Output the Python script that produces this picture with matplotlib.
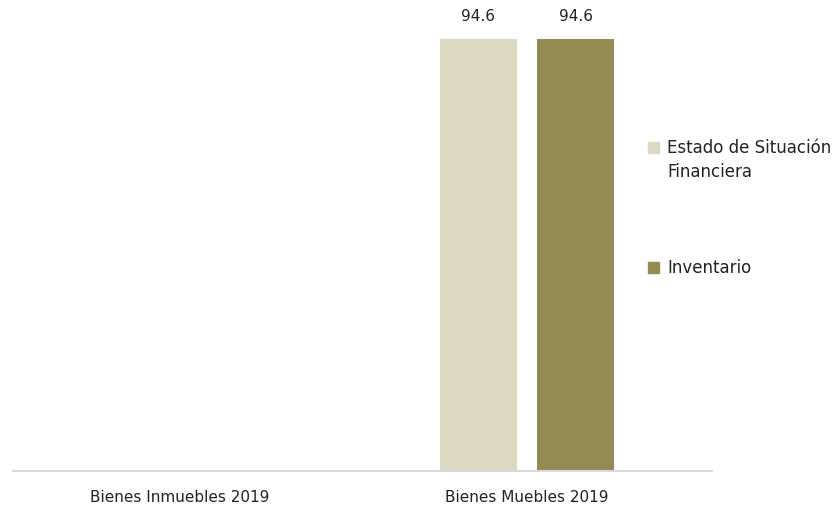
import matplotlib
matplotlib.use('Agg')
import matplotlib.pyplot as plt
from matplotlib.patches import Rectangle
import numpy as np

categories = ['Bienes Inmuebles 2019', 'Bienes Muebles 2019']
estado_situacion = [0, 94.6]
inventario = [0, 94.6]
series_names = ['Estado de Situación\nFinanciera', 'Inventario']
colors = ['#ddd8c1', '#948a54']

plt.rcParams['font.family'] = ['DejaVu Sans']

fig = plt.figure(figsize=(8.37, 5.12), dpi=100)
ax = fig.add_axes([13 / 837, 41 / 512, 699 / 837, 441 / 512])

x = np.arange(len(categories))
width = 0.222
offset = 0.14

for values, color, shift in [(estado_situacion, colors[0], -offset),
                             (inventario, colors[1], offset)]:
    bars = ax.bar(x + shift, values, width, color=color)
    for b, v in zip(bars, values):
        if v > 0:
            ax.annotate(f'{v:.1f}', (b.get_x() + b.get_width() / 2, v),
                        xytext=(0, 16), textcoords='offset points',
                        ha='center', va='center', fontsize=11,
                        color='#222222', annotation_clip=False)

ax.set_xlim(-0.481, 1.533)
ax.set_ylim(0, 94.6 * 441 / 432)
ax.set_xticks(x)
ax.set_xticklabels(categories, fontsize=11)
ax.tick_params(axis='x', length=0, pad=14, colors='#222222')
ax.set_yticks([])
for side in ['top', 'left', 'right']:
    ax.spines[side].set_visible(False)
ax.spines['bottom'].set_color('#d9d9d9')
ax.spines['bottom'].set_linewidth(1.5)

# leyenda a la derecha
legend_y = [148, 268]
for name, color, y in zip(series_names, colors, legend_y):
    fig.add_artist(Rectangle((648 / 837, 1 - (y + 5) / 512), 11 / 837, 11 / 512,
                             transform=fig.transFigure, color=color))
    fig.text(667 / 837, 1 - (y - 9) / 512, name, ha='left', va='top',
             fontsize=12, color='#222222', linespacing=1.45)

fig.savefig('out.png', dpi=100)
